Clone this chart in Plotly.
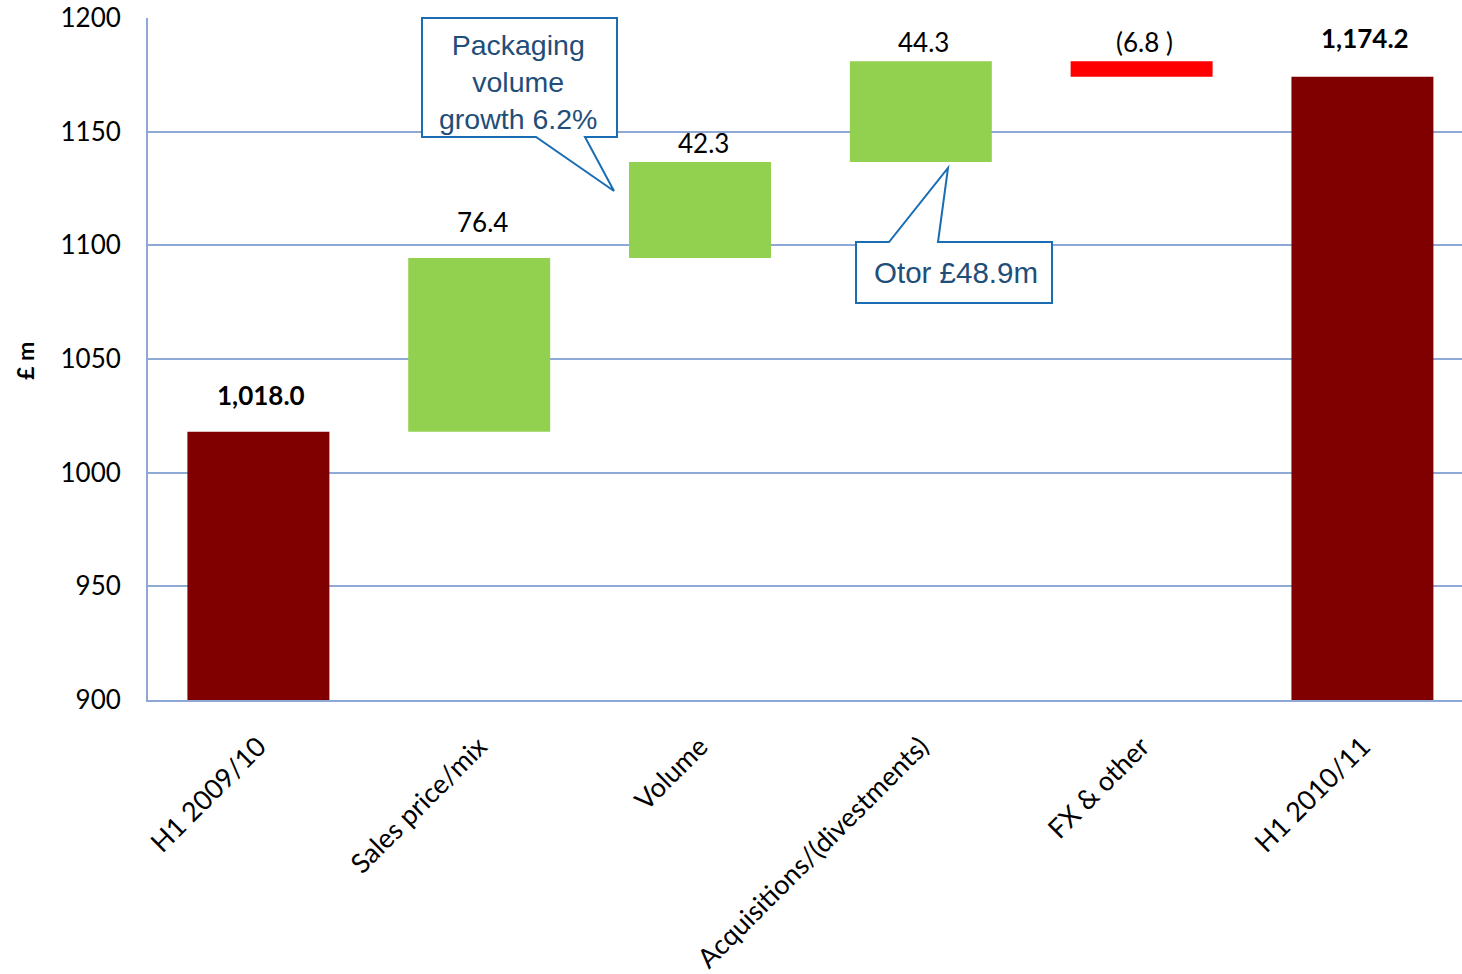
import plotly.graph_objects as go

# Revenue bridge, £m
categories = ["H1 2009/10", "Sales price/mix", "Volume",
              "Acquisitions/(divestments)", "FX & other", "H1 2010/11"]
values = [1018.0, 76.4, 42.3, 44.3, -6.8, 1174.2]
measures = ["total", "delta", "delta", "delta", "delta", "total"]
value_labels = ["1,018.0", "76.4", "42.3", "44.3", "(6.8 )", "1,174.2"]
y_ticks = [900, 950, 1000, 1050, 1100, 1150, 1200]

# vertical offset (px) of each value label above its bar
LABEL_LIFT = [19, 18, 1, 1, 1, 21]

TOTAL_COLOR = "#800000"
UP_COLOR = "#92D050"
DOWN_COLOR = "#FF0000"
GRID_COLOR = "#8FA9D6"
CALLOUT_LINE = "#1A6DB3"
CALLOUT_TEXT = "#1F4E79"

# running bridge: floating bars for deltas, full bars for totals
bases, heights, colors, tops = [], [], [], []
running = 0.0
for v, m in zip(values, measures):
    if m == "total":
        bases.append(0.0)
        heights.append(v)
        colors.append(TOTAL_COLOR)
        running = v
        tops.append(v)
    else:
        bases.append(running)
        heights.append(v)
        colors.append(UP_COLOR if v >= 0 else DOWN_COLOR)
        tops.append(max(running, running + v))
        running += v

fig = go.Figure(go.Bar(
    x=categories, y=heights, base=bases,
    marker=dict(color=colors, line=dict(width=0)),
    hoverinfo="skip",
))

# value labels above each bar
for cat, top, lab, m, lift in zip(categories, tops, value_labels, measures, LABEL_LIFT):
    txt = f"<b>{lab}</b>" if m == "total" else lab
    fig.add_annotation(x=cat, y=top, text=txt, showarrow=False,
                       xref="x", yref="y", yanchor="bottom", yshift=lift, xshift=3,
                       font=dict(family="Lato", size=26, color="#000000"))

# plot-area geometry (pixels) used for the callout shapes
L, R, T, B = 148, 1462, 18, 700


def px(x, y):
    return (x - L) / (R - L), (B - y) / (B - T)


def callout_path(pts):
    coords = [px(x, y) for x, y in pts]
    d = "M " + " L ".join(f"{a:.5f},{b:.5f}" for a, b in coords) + " Z"
    return d


# "Packaging volume growth" callout, pointer towards the Volume bar
pack = [(422, 18), (617, 18), (617, 137), (585, 137), (614, 191),
        (536, 137), (422, 137)]
# "Otor" callout, pointer towards the Acquisitions bar
otor = [(856, 242), (889, 242), (948, 168), (938, 242), (1052, 242),
        (1052, 303), (856, 303)]
for pts in (pack, otor):
    fig.add_shape(type="path", path=callout_path(pts), xref="paper", yref="paper",
                  fillcolor="white", line=dict(color=CALLOUT_LINE, width=2),
                  layer="above")

cx, cy = px(518, 82)
fig.add_annotation(x=cx, y=cy, xref="paper", yref="paper", showarrow=False,
                   text="Packaging<br>volume<br>growth 6.2%",
                   font=dict(family="Liberation Sans", size=28.5, color=CALLOUT_TEXT),
                   align="center", xanchor="center", yanchor="middle")
cx, cy = px(956, 272)
fig.add_annotation(x=cx, y=cy, xref="paper", yref="paper", showarrow=False,
                   text="Otor £48.9m",
                   font=dict(family="Liberation Sans", size=29.5, color=CALLOUT_TEXT),
                   xanchor="center", yanchor="middle")

# y-axis title
tx, ty = px(25, 361)
fig.add_annotation(x=tx, y=ty, xref="paper", yref="paper", showarrow=False,
                   text="<b>£ m</b>", textangle=-90,
                   font=dict(family="Lato", size=23, color="#000000"),
                   xanchor="center", yanchor="middle")

fig.update_layout(
    width=1462, height=974,
    margin=dict(l=L, r=1462 - R, t=T, b=974 - B),
    paper_bgcolor="white", plot_bgcolor="white",
    bargap=0.357, showlegend=False,
    font=dict(family="Lato", color="#000000"),
)
# category band is wider than the visible area: the last band runs past the right edge
fig.update_xaxes(
    type="category", range=[-0.5, 5.451], tickangle=-45, showgrid=False,
    showline=True, linecolor=GRID_COLOR, linewidth=2,
    ticks="", tickfont=dict(family="Lato", size=27, color="#000000"),
    ticklabelstandoff=18,
)
fig.update_yaxes(
    range=[900, 1200], tickvals=y_ticks, ticktext=[str(t) for t in y_ticks],
    showgrid=True, gridcolor=GRID_COLOR, gridwidth=2,
    showline=True, linecolor=GRID_COLOR, linewidth=2,
    zeroline=False, ticks="", ticklabelstandoff=20,
    tickfont=dict(family="Lato", size=26, color="#000000"),
)

fig.write_html("out.html")
